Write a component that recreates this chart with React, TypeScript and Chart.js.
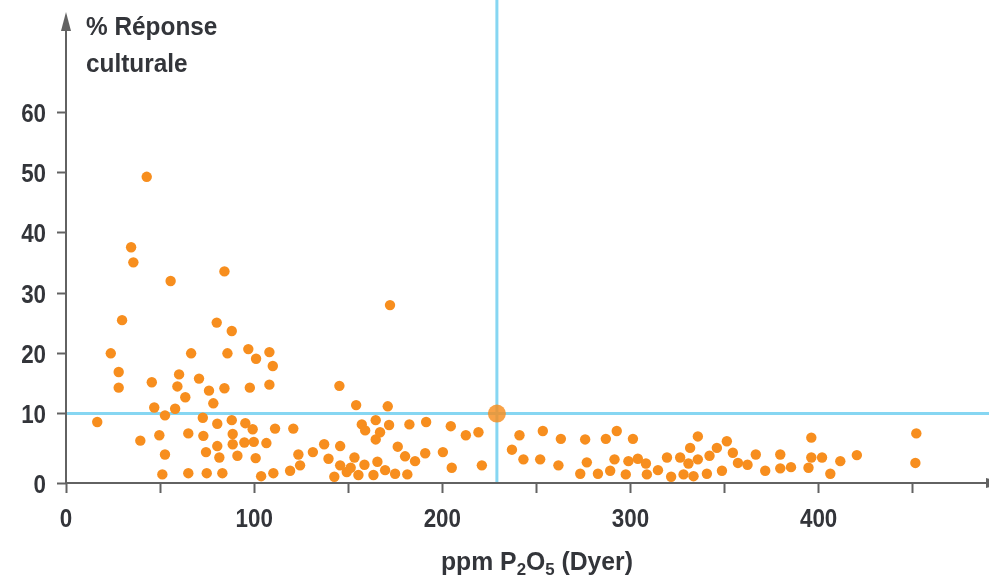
import React, { useEffect, useRef } from "react";
import { Chart, registerables } from "chart.js";

Chart.register(...registerables);

// ---- Data ----
const P2O5_PPM = [
  42.9, 34.6, 35.8, 55.6, 84.2, 29.8, 80.1, 88.1, 23.8, 66.5,
  85.8, 96.9, 101.0, 108.1, 109.9, 28.0, 28.0, 45.6, 60.1, 59.2,
  70.7, 76.0, 84.2, 97.7, 108.1, 63.4, 78.3, 46.9, 58.0, 52.6,
  72.7, 88.1, 16.6, 80.4, 95.3, 99.2, 111.1, 120.8, 39.5, 49.6,
  65.0, 73.0, 88.6, 80.4, 88.6, 94.8, 99.8, 106.5, 52.6, 74.4,
  81.5, 91.1, 100.8, 123.5, 124.4, 51.2, 65.0, 74.8, 83.1, 103.7,
  110.2, 119.1,
  131.2, 137.2, 139.5, 142.6, 145.7, 145.3, 145.7, 149.2, 151.3, 153.3,
  154.2, 155.4, 157.2, 159.0, 158.6, 163.4, 164.6, 164.6, 165.5, 166.9,
  169.6, 171.0, 171.7, 174.9, 176.3, 180.2, 181.4, 182.5, 185.5, 190.9,
  191.4, 200.3, 204.5, 205.0, 212.5, 219.2, 221.0, 172.2,
  237.0, 241.0, 243.1, 252.0, 253.4, 261.7, 263.0, 273.3, 275.9, 276.8,
  282.7, 286.9, 289.2, 291.5, 292.7, 297.5, 298.9, 301.3, 303.9, 308.2,
  308.7, 314.6, 319.4, 321.6, 326.4, 328.2, 330.8, 331.7, 333.5, 335.8,
  335.8, 340.6, 342.0, 345.9, 348.6, 351.2, 354.4, 357.1, 362.2, 366.6,
  371.6, 379.6, 379.6, 385.3, 394.6, 396.1, 396.1, 401.8, 406.2, 411.5,
  420.3, 451.9, 451.4,
];

const RESPONSE_PCT = [
  49.3, 37.6, 35.1, 32.0, 33.6, 25.5, 25.1, 23.7, 20.0, 20.0,
  20.0, 20.7, 19.1, 20.2, 17.9, 16.9, 14.3, 15.2, 16.5, 14.5,
  15.8, 13.8, 14.2, 14.3, 14.8, 12.7, 11.7, 11.0, 10.8, 9.7,
  9.3, 8.9, 8.6, 8.3, 8.4, 7.4, 7.5, 7.5, 5.5, 6.4,
  6.7, 6.3, 6.6, 4.6, 4.9, 5.2, 5.3, 5.1, 3.2, 3.6,
  2.7, 3.0, 2.6, 3.2, 1.4, -0.1, 0.1, 0.1, 0.1, -0.4,
  0.1, 0.5,
  3.6, 4.9, 2.5, -0.5, 4.6, 14.6, 1.4, 0.3, 1.0, 2.7,
  11.4, -0.2, 8.2, 7.2, 1.5, -0.2, 8.9, 5.7, 2.0, 6.9,
  0.6, 11.2, 8.1, 0.0, 4.5, 2.9, -0.1, 8.2, 2.1, 3.4,
  8.6, 3.6, 7.9, 1.0, 6.4, 6.9, 1.4, 28.0,
  4.0, 6.4, 2.4, 2.4, 7.1, 1.4, 5.8, 0.0, 5.7, 1.9,
  0.0, 5.8, 0.5, 2.4, 7.1, -0.1, 2.1, 5.8, 2.5, 1.7,
  -0.1, 0.6, 2.7, -0.5, 2.7, -0.1, 1.7, 4.3, -0.4, 2.4,
  6.2, 0.0, 3.0, 4.3, 0.5, 5.4, 3.5, 1.8, 1.5, 3.2,
  0.5, 3.2, 0.9, 1.1, 1.0, 6.0, 2.7, 2.7, 0.0, 2.1,
  3.1, 6.7, 1.8,
];

const CRITICAL_PPM = [229];
const CRITICAL_RESPONSE = [10];

const X_MIN = 0;
const X_MAX = 490;
const X_STEP = 50;
const X_TICK_VALUES = [0, 100, 200, 300, 400];
const X_TICK_LABELS = ["0", "100", "200", "300", "400"];

const Y_MIN = -1.53;
const Y_MAX = 78.65;
const Y_TICK_VALUES = [Y_MIN, 10, 20, 30, 40, 50, 60];
const Y_TICK_LABELS = ["0", "10", "20", "30", "40", "50", "60"];

const Y_TITLE_LINES = ["% Réponse", "culturale"];
const X_TITLE_PARTS = [
  { text: "ppm P", sub: false },
  { text: "2", sub: true },
  { text: "O", sub: false },
  { text: "5", sub: true },
  { text: " (Dyer)", sub: false },
];

// ---- Styles ----
const FONT = "'Liberation Sans', Arial, sans-serif";
const ORANGE = "#f78e1e";
const ORANGE_HL = "rgba(247,142,30,0.82)";
const CYAN = "#86d6f2";
const AXIS = "#626262";
const TEXT = "#33353a";

function drawText(
  ctx: CanvasRenderingContext2D,
  text: string,
  x: number,
  y: number,
  size: number,
  sx: number,
  align: CanvasTextAlign
) {
  ctx.save();
  ctx.translate(x, y);
  ctx.scale(sx, 1);
  ctx.font = `bold ${size}px ${FONT}`;
  ctx.textAlign = align;
  ctx.textBaseline = "alphabetic";
  ctx.fillText(text, 0, 0);
  ctx.restore();
}

const decorPlugin = {
  id: "decor",
  beforeDatasetsDraw(chart: any) {
    const { ctx, chartArea, scales } = chart;
    const px = scales.x.getPixelForValue(CRITICAL_PPM[0]);
    const py = scales.y.getPixelForValue(CRITICAL_RESPONSE[0]);
    ctx.save();
    ctx.strokeStyle = CYAN;
    ctx.lineWidth = 3;
    ctx.beginPath();
    ctx.moveTo(px, 0);
    ctx.lineTo(px, chartArea.bottom);
    ctx.moveTo(chartArea.left, py);
    ctx.lineTo(chart.width, py);
    ctx.stroke();
    ctx.restore();
  },
  afterDraw(chart: any) {
    const { ctx, chartArea, scales } = chart;
    const left = chartArea.left;
    const bottom = chartArea.bottom;
    ctx.save();
    // axes
    ctx.strokeStyle = AXIS;
    ctx.fillStyle = AXIS;
    ctx.lineWidth = 2;
    ctx.beginPath();
    ctx.moveTo(left, bottom + 1);
    ctx.lineTo(left, 24);
    ctx.moveTo(left - 1, bottom);
    ctx.lineTo(chart.width, bottom);
    ctx.stroke();
    // y arrow
    ctx.beginPath();
    ctx.moveTo(left, 12);
    ctx.lineTo(left - 5, 31);
    ctx.lineTo(left + 5, 31);
    ctx.closePath();
    ctx.fill();
    // x arrow (cut at the edge)
    ctx.beginPath();
    ctx.moveTo(chart.width + 16, bottom);
    ctx.lineTo(chart.width - 3, bottom - 5);
    ctx.lineTo(chart.width - 3, bottom + 5);
    ctx.closePath();
    ctx.fill();

    ctx.fillStyle = TEXT;
    // y tick labels
    Y_TICK_VALUES.forEach((v, i) => {
      const y = scales.y.getPixelForValue(v);
      drawText(ctx, Y_TICK_LABELS[i], left - 20, y + 9.5, 26, 0.86, "right");
    });
    // x tick labels
    X_TICK_VALUES.forEach((v, i) => {
      const x = scales.x.getPixelForValue(v);
      drawText(ctx, X_TICK_LABELS[i], x, 527, 26, 0.86, "center");
    });

    // y title
    drawText(ctx, Y_TITLE_LINES[0], 86, 35, 26.5, 0.92, "left");
    drawText(ctx, Y_TITLE_LINES[1], 86, 72, 26.5, 0.92, "left");

    // x title with subscripts
    const sx = 0.99;
    const mainSize = 25;
    const subSize = 17;
    let total = 0;
    for (const p of X_TITLE_PARTS) {
      ctx.font = `bold ${p.sub ? subSize : mainSize}px ${FONT}`;
      total += ctx.measureText(p.text).width * sx;
    }
    let cx = 537 - total / 2;
    const base = 570;
    for (const p of X_TITLE_PARTS) {
      const size = p.sub ? subSize : mainSize;
      drawText(ctx, p.text, cx, p.sub ? base + 5 : base, size, sx, "left");
      ctx.font = `bold ${size}px ${FONT}`;
      cx += ctx.measureText(p.text).width * sx;
    }
    ctx.restore();
  },
};

export default function App() {
  const ref = useRef<HTMLCanvasElement | null>(null);

  useEffect(() => {
    document.body.style.margin = "0";
    const canvas = ref.current;
    if (!canvas) return;
    const points = P2O5_PPM.map((x, i) => ({ x, y: RESPONSE_PCT[i] }));
    const critical = CRITICAL_PPM.map((x, i) => ({ x, y: CRITICAL_RESPONSE[i] }));

    const chart = new Chart(canvas, {
      type: "scatter",
      data: {
        datasets: [
          {
            label: "critique",
            data: critical,
            pointRadius: 9,
            pointHoverRadius: 9,
            pointBackgroundColor: ORANGE_HL,
            pointBorderWidth: 0,
          },
          {
            label: "essais",
            data: points,
            pointRadius: 5.2,
            pointHoverRadius: 5.2,
            pointBackgroundColor: ORANGE,
            pointBorderWidth: 0,
          },
        ],
      },
      options: {
        responsive: false,
        animation: false,
        devicePixelRatio: 1,
        layout: { autoPadding: false, padding: { left: 0, right: 1, top: 0, bottom: 0 } },
        plugins: {
          legend: { display: false },
          tooltip: { enabled: false },
          title: { display: false },
        },
        scales: {
          x: {
            type: "linear",
            min: X_MIN,
            max: X_MAX,
            border: { display: false },
            grid: {
              display: true,
              drawOnChartArea: false,
              drawTicks: true,
              tickLength: 10,
              tickColor: AXIS,
              tickWidth: 2,
            },
            ticks: {
              display: false,
              stepSize: X_STEP,
              includeBounds: false,
              autoSkip: false,
              maxRotation: 0,
            },
            afterFit: (s: any) => {
              s.height = 96;
              s.paddingLeft = 0;
              s.paddingRight = 0;
            },
          },
          y: {
            type: "linear",
            min: Y_MIN,
            max: Y_MAX,
            border: { display: false },
            grid: {
              display: true,
              drawOnChartArea: false,
              drawTicks: true,
              tickLength: 9,
              tickColor: AXIS,
              tickWidth: 2,
            },
            afterBuildTicks: (s: any) => {
              s.ticks = Y_TICK_VALUES.map((v) => ({ value: v }));
            },
            ticks: { display: false, autoSkip: false },
            afterFit: (s: any) => {
              s.width = 66;
              s.paddingTop = 0;
              s.paddingBottom = 0;
            },
          },
        },
      },
      plugins: [decorPlugin],
    });
    return () => chart.destroy();
  }, []);

  return (
    <div style={{ width: 989, height: 579, background: "#fff" }}>
      <canvas ref={ref} width={989} height={579} />
    </div>
  );
}
